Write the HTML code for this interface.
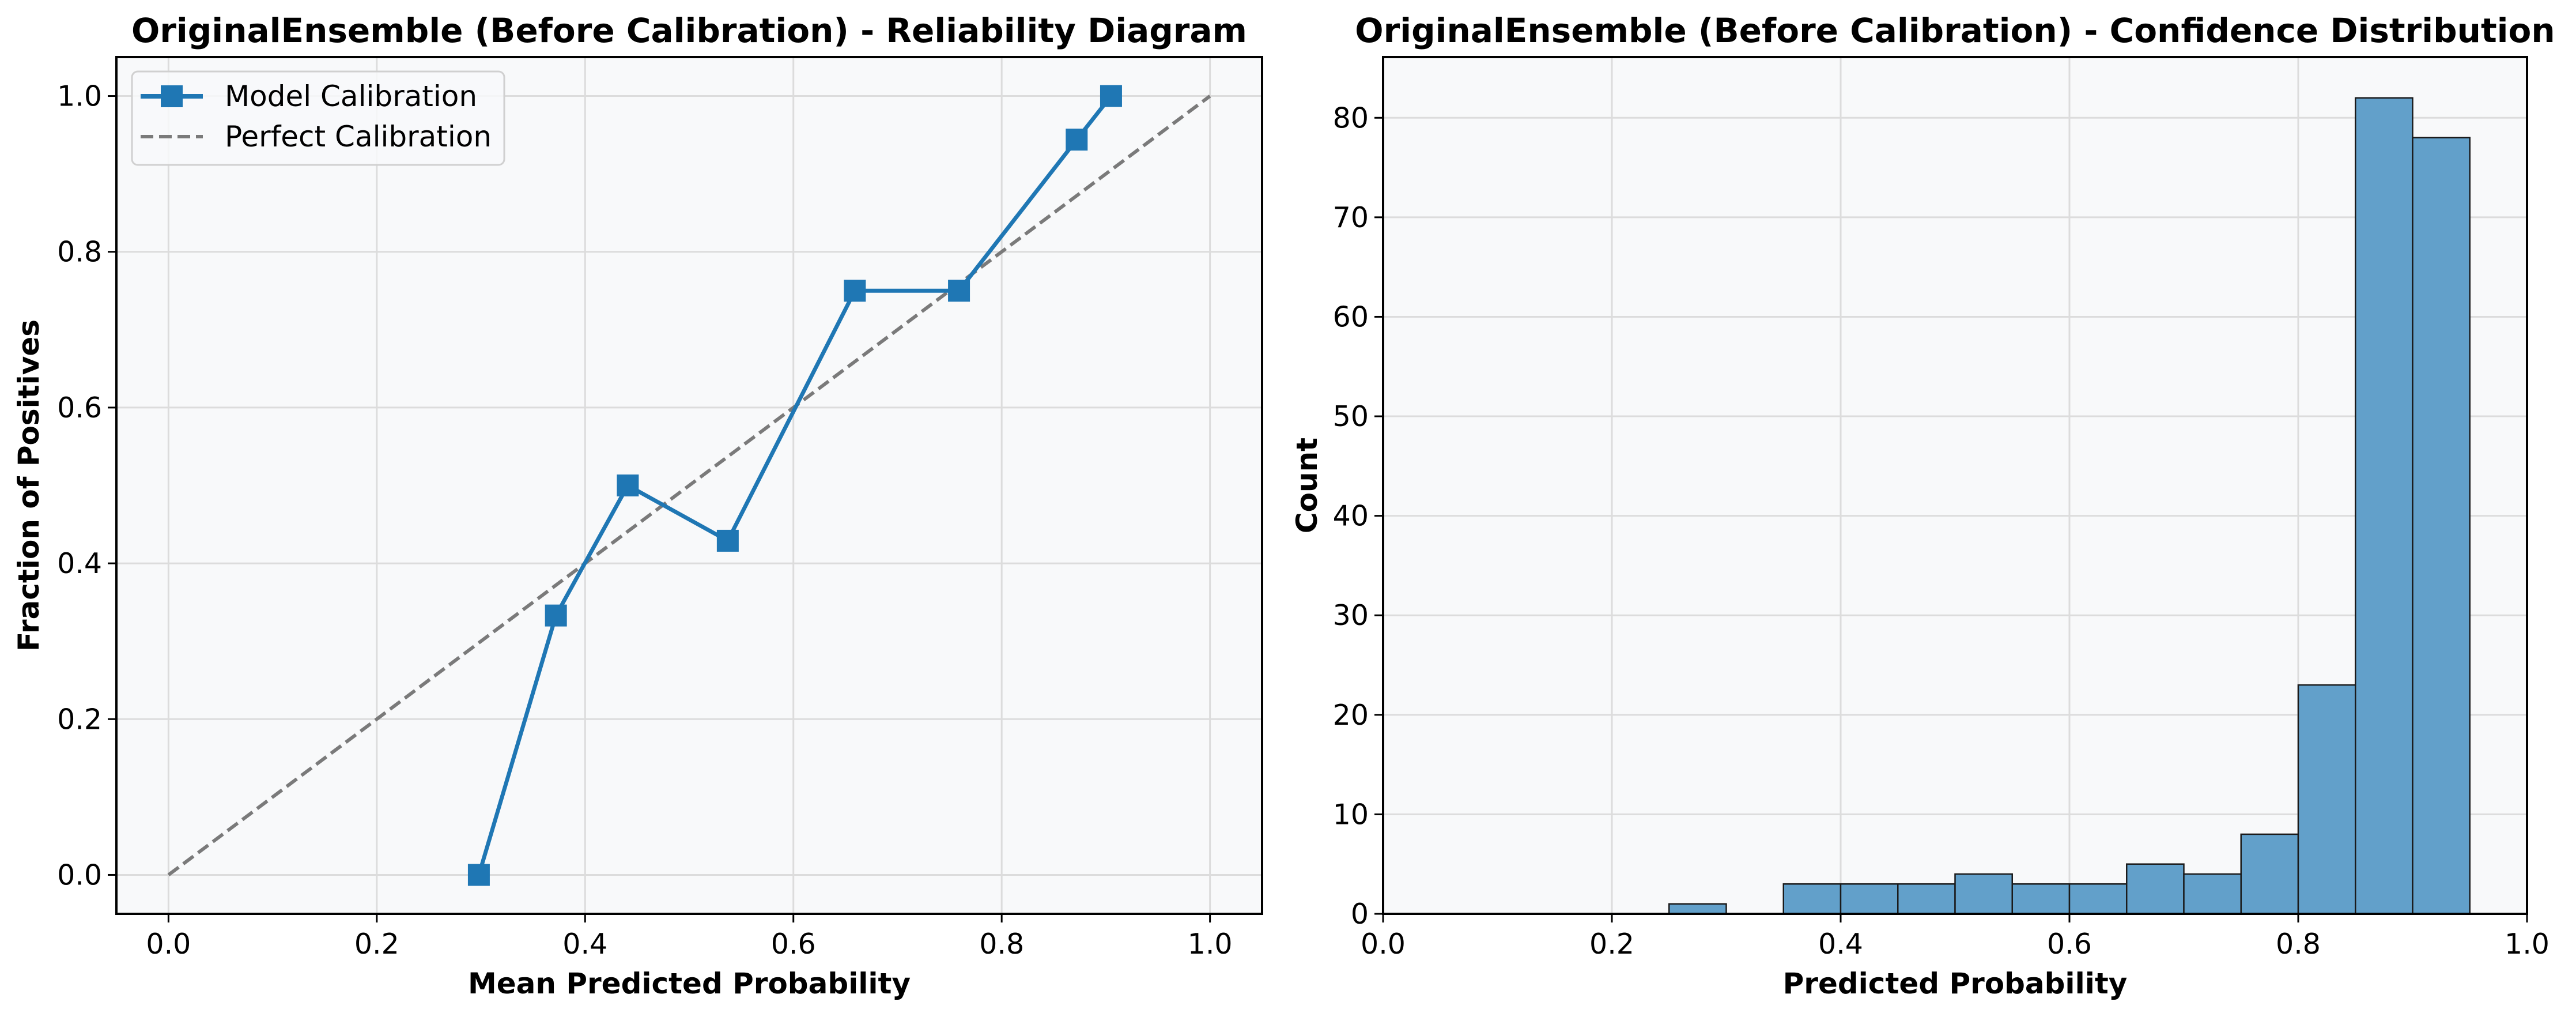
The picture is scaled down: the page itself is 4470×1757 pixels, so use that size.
<!DOCTYPE html>
<html><head><meta charset="utf-8">
<style>
html,body{margin:0;padding:0;background:#fff;}
svg{display:block;font-family:"DejaVu Sans","Liberation Sans",sans-serif;}
</style></head>
<body>
<svg id="fig" width="4470" height="1757" viewBox="0 0 4470 1757" xmlns="http://www.w3.org/2000/svg">
<rect width="4470" height="1757" fill="#fff"/>
<g id="left"></g>
<g id="right"></g>
</svg>
<script>
// Reliability diagram data
const relX = [0.298, 0.372, 0.441, 0.537, 0.659, 0.759, 0.872, 0.905];
const relY = [0.0, 0.333, 0.5, 0.429, 0.75, 0.75, 0.944, 1.0];
const relTicks = [0.0, 0.2, 0.4, 0.6, 0.8, 1.0];
const relTickLabels = ["0.0", "0.2", "0.4", "0.6", "0.8", "1.0"];
// Histogram data
const binStarts = [0.25, 0.35, 0.40, 0.45, 0.50, 0.55, 0.60, 0.65, 0.70, 0.75, 0.80, 0.85, 0.90];
const binCounts = [1, 3, 3, 3, 4, 3, 3, 5, 4, 8, 23, 82, 78];
const binWidth = 0.05;
const histXTicks = [0.0, 0.2, 0.4, 0.6, 0.8, 1.0];
const histXTickLabels = ["0.0", "0.2", "0.4", "0.6", "0.8", "1.0"];
const histYTicks = [0, 10, 20, 30, 40, 50, 60, 70, 80];
const histYTickLabels = ["0", "10", "20", "30", "40", "50", "60", "70", "80"];

const NS = "http://www.w3.org/2000/svg";
function mk(parent, tag, attrs, text){
  const e = document.createElementNS(NS, tag);
  for (const k in attrs) e.setAttribute(k, attrs[k]);
  if (text !== undefined) e.textContent = text;
  parent.appendChild(e);
  return e;
}
const TF = 49, LF = 50, TT = 58;

// ---------- Left panel ----------
const L = document.getElementById('left');
const lx0 = 202, lx1 = 2190, ly0 = 99, ly1 = 1585;
const lxs = v => lx0 + (v + 0.05) / 1.1 * (lx1 - lx0);
const lys = v => ly1 - (v + 0.05) / 1.1 * (ly1 - ly0);
let e;
e = mk(L, 'rect', {x:lx0, y:ly0, width:lx1-lx0, height:ly1-ly0, fill:'#f8f9fa'});


relTicks.forEach((t, i) => {
  e = mk(L, 'line', {x1:lxs(t), x2:lxs(t), y1:ly0, y2:ly1, stroke:'#dcdcdc', 'stroke-width':3});
  
  
  e = mk(L, 'line', {x1:lx0, x2:lx1, y1:lys(t), y2:lys(t), stroke:'#dcdcdc', 'stroke-width':3});
  
  
  e = mk(L, 'line', {x1:lxs(t), x2:lxs(t), y1:ly1, y2:ly1+15, stroke:'#000', 'stroke-width':3});
  
  
  e = mk(L, 'text', {x:lxs(t), y:ly1+69, 'text-anchor':'middle', 'font-size':TF}, relTickLabels[i]);
  
  
  e = mk(L, 'line', {x1:lx0-15, x2:lx0, y1:lys(t), y2:lys(t), stroke:'#000', 'stroke-width':3});
  
  
  e = mk(L, 'text', {x:lx0-25, y:lys(t)+17, 'text-anchor':'end', 'font-size':TF}, relTickLabels[i]);
  
  
});
e = mk(L, 'line', {x1:lxs(0), y1:lys(0), x2:lxs(1), y2:lys(1), stroke:'#7a7a7a', 'stroke-width':6, 'stroke-dasharray':'22 10'});


e = mk(L, 'polyline', {points: relX.map((x,i)=>lxs(x)+','+lys(relY[i])).join(' '), fill:'none', stroke:'#1f77b4', 'stroke-width':7, 'stroke-linejoin':'round'});


relX.forEach((x, i) => {
  e = mk(L, 'rect', {x:lxs(x)-19, y:lys(relY[i])-19, width:38, height:38, fill:'#1f77b4'});
  
  
});
e = mk(L, 'rect', {x:lx0, y:ly0, width:lx1-lx0, height:ly1-ly0, fill:'none', stroke:'#000', 'stroke-width':4});


// legend
const lg = mk(L, 'g', {});


e = mk(lg, 'rect', {x:229, y:124, width:646, height:162, rx:10, fill:'#f8f9fa', 'fill-opacity':0.85, stroke:'#d0d0d0', 'stroke-width':3});


e = mk(lg, 'line', {x1:244, x2:352, y1:167, y2:167, stroke:'#1f77b4', 'stroke-width':8});


e = mk(lg, 'rect', {x:279, y:148, width:38, height:38, fill:'#1f77b4'});


e = mk(lg, 'text', {x:390, y:184, 'font-size':LF}, 'Model Calibration');


e = mk(lg, 'line', {x1:244, x2:352, y1:237, y2:237, stroke:'#7a7a7a', 'stroke-width':6, 'stroke-dasharray':'22 10'});


e = mk(lg, 'text', {x:390, y:254, 'font-size':LF}, 'Perfect Calibration');


e = mk(L, 'text', {x:(lx0+lx1)/2, y:73, 'text-anchor':'middle', 'font-size':TT, 'font-weight':'bold'}, 'OriginalEnsemble (Before Calibration) - Reliability Diagram');


e = mk(L, 'text', {x:(lx0+lx1)/2, y:1723, 'text-anchor':'middle', 'font-size':LF, 'font-weight':'bold'}, 'Mean Predicted Probability');


e = mk(L, 'text', {x:0, y:0, 'text-anchor':'middle', 'font-size':LF, 'font-weight':'bold', transform:'translate(67,'+((ly0+ly1)/2)+') rotate(-90)'}, 'Fraction of Positives');



// ---------- Right panel ----------
const R = document.getElementById('right');
const rx0 = 2400, rx1 = 4385, ry0 = 99, ry1 = 1585, ymax = 86.1;
const rxs = v => rx0 + v * (rx1 - rx0);
const rys = v => ry1 - v / ymax * (ry1 - ry0);
e = mk(R, 'rect', {x:rx0, y:ry0, width:rx1-rx0, height:ry1-ry0, fill:'#f8f9fa'});


histXTicks.forEach((t, i) => {
  e = mk(R, 'line', {x1:rxs(t), x2:rxs(t), y1:ry0, y2:ry1, stroke:'#dcdcdc', 'stroke-width':3});
  
  
  e = mk(R, 'line', {x1:rxs(t), x2:rxs(t), y1:ry1, y2:ry1+15, stroke:'#000', 'stroke-width':3});
  
  
  e = mk(R, 'text', {x:rxs(t), y:ry1+69, 'text-anchor':'middle', 'font-size':TF}, histXTickLabels[i]);
  
  
});
histYTicks.forEach((t, i) => {
  e = mk(R, 'line', {x1:rx0, x2:rx1, y1:rys(t), y2:rys(t), stroke:'#dcdcdc', 'stroke-width':3});
  
  
  e = mk(R, 'line', {x1:rx0-15, x2:rx0, y1:rys(t), y2:rys(t), stroke:'#000', 'stroke-width':3});
  
  
  e = mk(R, 'text', {x:rx0-25, y:rys(t)+17, 'text-anchor':'end', 'font-size':TF}, histYTickLabels[i]);
  
  
});
binStarts.forEach((b, i) => {
  e = mk(R, 'rect', {x:rxs(b), y:rys(binCounts[i]), width:rxs(b+binWidth)-rxs(b), height:rys(0)-rys(binCounts[i]), fill:'#62a0ca', stroke:'#1a1a1a', 'stroke-width':2.5});
  
  
});
e = mk(R, 'rect', {x:rx0, y:ry0, width:rx1-rx0, height:ry1-ry0, fill:'none', stroke:'#000', 'stroke-width':4});


e = mk(R, 'text', {x:(rx0+rx1)/2, y:73, 'text-anchor':'middle', 'font-size':TT, 'font-weight':'bold'}, 'OriginalEnsemble (Before Calibration) - Confidence Distribution');


e = mk(R, 'text', {x:(rx0+rx1)/2, y:1723, 'text-anchor':'middle', 'font-size':LF, 'font-weight':'bold'}, 'Predicted Probability');


e = mk(R, 'text', {x:0, y:0, 'text-anchor':'middle', 'font-size':LF, 'font-weight':'bold', transform:'translate(2285,'+((ry0+ry1)/2)+') rotate(-90)'}, 'Count');


</script>
</body></html>
